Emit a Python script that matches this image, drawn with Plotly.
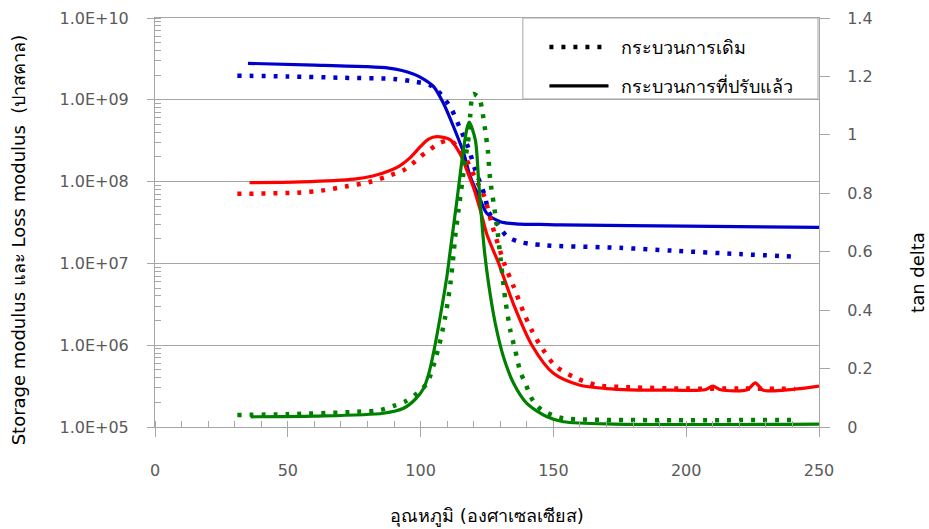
import plotly.graph_objects as go

# ---- data ----
# Storage modulus, original process (dotted blue)
sto_old_x = [31, 50, 70, 90, 98, 103.6, 106.7, 109.3, 111.8, 115, 118, 120.6, 122.5, 124.3,
             125.6, 128.7, 132.5, 136.9, 141.3, 145.7, 150, 175, 195, 220, 241]
sto_old_y = [1.97e9, 1.93e9, 1.86e9, 1.80e9, 1.66e9, 1.51e9, 1.26e9, 1.0e9, 7.5e8, 4.37e8,
             2.57e8, 1.38e8, 9.5e7, 6.5e7, 4.27e7, 3.1e7, 2.14e7, 1.84e7, 1.73e7, 1.68e7,
             1.64e7, 1.55e7, 1.43e7, 1.30e7, 1.21e7]

# Storage modulus, improved process (solid blue)
sto_new_x = [35, 60, 80, 88, 93, 97, 100, 104.9, 108.6, 112.4, 116.2, 118.7, 122.5, 125,
             130, 137.5, 145, 152.6, 200, 250]
sto_new_y = [2.79e9, 2.66e9, 2.54e9, 2.44e9, 2.28e9, 2.08e9, 1.88e9, 1.45e9, 9.06e8, 4.68e8,
             2.24e8, 1.15e8, 5.96e7, 4.07e7, 3.24e7, 3.02e7, 3.0e7, 2.95e7, 2.85e7, 2.75e7]

# Loss modulus, original process (dotted red)
loss_old_x = [31, 53.6, 62.7, 71.7, 80.8, 88.8, 93.6, 96.8, 99.8, 103.6, 107.4, 111.2, 114.3,
              117.4, 121.2, 123.7, 125, 127, 131.5, 135, 138.8, 141.9, 145, 150.7, 158.3,
              166.4, 175.2, 200, 220, 241]
loss_old_y = [7.08e7, 7.33e7, 7.76e7, 8.71e7, 9.89e7, 1.20e8, 1.38e8, 1.64e8, 2.0e8, 2.48e8,
              2.99e8, 3.16e8, 2.57e8, 1.82e8, 1.0e8, 6.92e7, 5.13e7, 2.9e7, 1.0e7, 5.25e6,
              2.51e6, 1.51e6, 1.0e6, 5.6e5, 4.0e5, 3.24e5, 3.09e5, 2.95e5, 2.95e5, 2.92e5]

# Loss modulus, improved process (solid red)
loss_new_x = [35.6, 55, 75, 82, 88, 92, 96, 100, 103, 106.1, 111.2, 115, 117.4, 120, 122.5,
              125, 129.4, 135, 141.9, 150, 160, 170, 179, 195, 207, 210, 213,
              223, 226, 229, 240, 250]
loss_new_y = [9.7e7, 9.9e7, 1.07e8, 1.17e8, 1.35e8, 1.55e8, 1.95e8, 2.69e8, 3.31e8, 3.55e8,
              3.24e8, 2.14e8, 1.38e8, 8.3e7, 4.47e7, 2.24e7, 1.0e7, 3.16e6, 1.0e6, 4.53e5,
              3.24e5, 2.95e5, 2.85e5, 2.82e5, 2.85e5, 3.16e5, 2.85e5, 2.85e5, 3.47e5, 2.82e5,
              2.88e5, 3.16e5]

# tan delta, original process (dotted green)
tan_old_x = [31, 50, 76, 84.8, 89.8, 94.2, 98.6, 102.4, 106.7, 109.3, 111.2, 112.4, 113, 114.3,
             115.6, 116.8, 118.1, 118.7, 119.8, 122.1, 123.1, 124.3, 125.3, 126.2, 127.5,
             128.7, 130.3, 131.9, 133.8, 135.6, 137.5, 139.4, 142.5, 145.7, 149.5, 153.8,
             165, 241]
tan_old_y = [0.041, 0.044, 0.052, 0.058, 0.072, 0.087, 0.115, 0.15, 0.27, 0.378, 0.49, 0.59,
             0.65, 0.743, 0.834, 0.914, 0.994, 1.068, 1.14, 1.125, 1.088, 1.017, 0.948, 0.846,
             0.766, 0.69, 0.56, 0.435, 0.33, 0.264, 0.19, 0.15, 0.087, 0.058, 0.041, 0.03,
             0.025, 0.024]

# tan delta, improved process (solid green)
tan_new_x = [36, 60, 86, 93.6, 98, 101, 103, 105, 107.4, 109.9, 111.2, 113.7, 115.6, 117.4,
             118.3, 120.6, 121.9, 123.1, 124, 125.6, 128.1, 131.2, 135, 140, 147.6, 153.8,
             173, 250]
tan_new_y = [0.035, 0.037, 0.047, 0.064, 0.095, 0.13, 0.18, 0.26, 0.378, 0.515, 0.606, 0.777,
             0.914, 1.02, 1.044, 0.983, 0.834, 0.697, 0.606, 0.49, 0.355, 0.24, 0.15, 0.081,
             0.035, 0.018, 0.010, 0.010]

y_tickvals = [1e5, 1e6, 1e7, 1e8, 1e9, 1e10]
y_ticktext = ["1.0E+05", "1.0E+06", "1.0E+07", "1.0E+08", "1.0E+09", "1.0E+10"]
legend_labels = ["กระบวนการเดิม", "กระบวนการที่ปรับแล้ว"]
x_title = "อุณหภูมิ (องศาเซลเซียส)"
y_title = "Storage modulus และ Loss modulus  (ปาสคาล)"
y2_title = "tan delta"

BLUE = "#0000CC"
RED = "#FF0000"
GREEN = "#008000"
DOT = "4px,8px"
FONT = "DejaVu Sans, Tahoma, sans-serif"
TICKC = "#595959"
AXC = "#A6A6A6"

fig = go.Figure()

def add(x, y, color, dotted, axis):
    fig.add_trace(go.Scatter(
        x=x, y=y, mode="lines", yaxis=axis, showlegend=False, hoverinfo="skip",
        line=dict(color=color, width=4.5 if dotted else 3.2, dash=DOT if dotted else "solid",
                  shape="spline", smoothing=0.8)))

add(sto_old_x, sto_old_y, BLUE, True, "y")
add(sto_new_x, sto_new_y, BLUE, False, "y")
add(loss_old_x, loss_old_y, RED, True, "y")
add(loss_new_x, loss_new_y, RED, False, "y")
add(tan_old_x, tan_old_y, GREEN, True, "y2")
add(tan_new_x, tan_new_y, GREEN, False, "y2")

fig.update_layout(
    width=929, height=529,
    margin=dict(l=155, r=110, t=18, b=102),
    paper_bgcolor="white", plot_bgcolor="white",
    font=dict(family=FONT, size=16, color=TICKC),
    xaxis=dict(range=[0, 250], tickmode="linear", tick0=0, dtick=50, automargin=False,
               showgrid=False, zeroline=False, showline=True, linecolor=AXC, linewidth=1,
               mirror=True,
               ticks="outside", ticklen=9, tickcolor=AXC, ticklabelstandoff=20,
               minor=dict(tickmode="linear", tick0=0, dtick=10, ticks="inside", ticklen=6,
                          tickcolor=AXC, showgrid=False),
               tickfont=dict(size=16, color=TICKC),
               title=dict(text=x_title, standoff=30, font=dict(size=18, color="black"))),
    yaxis=dict(type="log", range=[5, 10], tickmode="array", tickvals=y_tickvals,
               ticktext=y_ticktext, showgrid=True, gridcolor=AXC, gridwidth=1,
               automargin=False,
               zeroline=False, showline=True, linecolor=AXC, linewidth=1,
               ticks="outside", ticklen=7, tickcolor=AXC, ticklabelstandoff=15,
               minor=dict(dtick="D1", ticks="inside", ticklen=6, tickcolor=AXC,
                          showgrid=False),
               tickfont=dict(size=16, color=TICKC)),
    yaxis2=dict(overlaying="y", side="right", range=[0, 1.4], tickmode="linear", tick0=0,
                dtick=0.2, showgrid=False, zeroline=False, showline=True, linecolor=AXC,
                automargin=False,
                linewidth=1, ticks="outside", ticklen=10, tickcolor=AXC,
                ticklabelstandoff=14, tickfont=dict(size=16, color=TICKC)),
)

# axis titles placed as in the reference
fig.add_annotation(xref="paper", yref="paper", x=-0.206, y=0.457, text=y_title,
                   textangle=-90, showarrow=False, xanchor="center", yanchor="middle",
                   font=dict(family=FONT, size=18, color="black"))
fig.add_annotation(xref="paper", yref="paper", x=1.149, y=0.379, text=y2_title,
                   textangle=-90, showarrow=False, xanchor="center", yanchor="middle",
                   font=dict(family=FONT, size=18, color="black"))

# legend drawn as a box with two sample lines
fig.add_shape(type="rect", xref="paper", yref="paper", x0=0.554, x1=0.9985, y0=0.802, y1=1.0,
              fillcolor="white", line=dict(color=AXC, width=1), layer="above")
rows = [0.929, 0.834]
for lab, yy, dash, w in zip(legend_labels, rows, [DOT, "solid"], [4.5, 3.2]):
    fig.add_shape(type="line", xref="paper", yref="paper", x0=0.594, x1=0.683, y0=yy, y1=yy,
                  line=dict(color="black", width=w, dash=dash), layer="above")
    fig.add_annotation(xref="paper", yref="paper", x=0.699, y=yy, text=lab, showarrow=False,
                       xanchor="left", yanchor="middle",
                       font=dict(family=FONT, size=18, color="black"))

fig.write_html("out.html")
